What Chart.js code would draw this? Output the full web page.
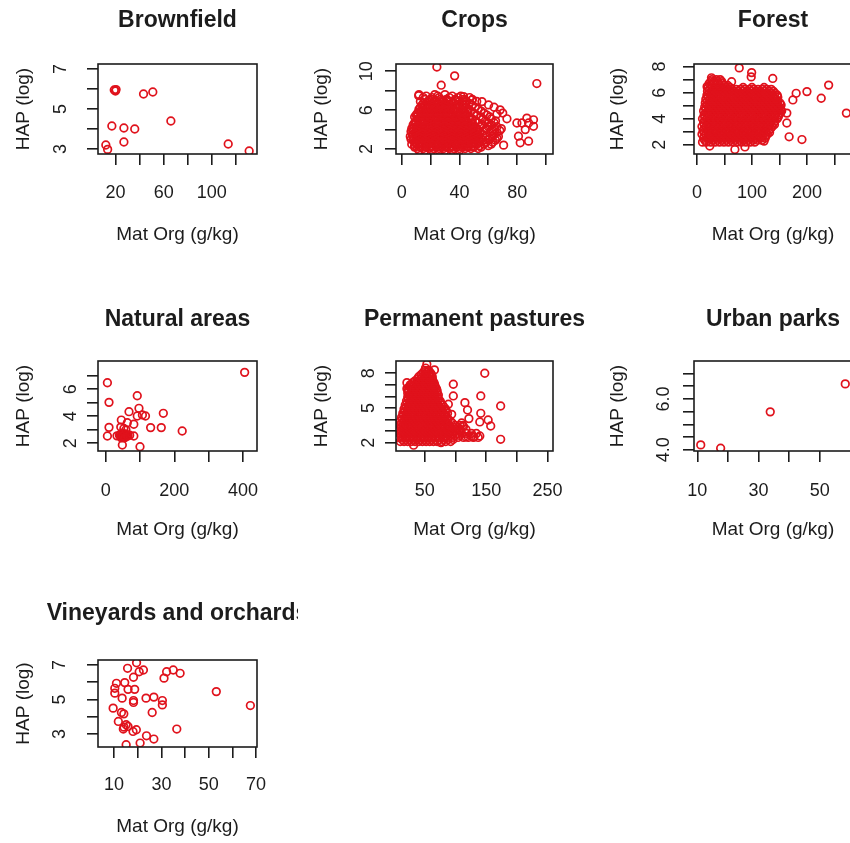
<!DOCTYPE html>
<html>
<head>
<meta charset="utf-8">
<script src="https://cdn.jsdelivr.net/npm/chart.js@4.4.1/dist/chart.umd.min.js"></script>
<style>
html, body { margin: 0; padding: 0; background: #fff; }
body { width: 850px; height: 843px; overflow: hidden; position: relative; }
.panel { position: absolute; width: 298px; height: 298px; overflow: hidden; }
.panel canvas { position: absolute; left: 0; top: 0; }
</style>
</head>
<body>
<script>
// values: [x = Mat Org (g/kg), y = HAP (log)]
const brownfieldPts = [[19,5.95],[20,5.9],[20.5,5.97],[43.3,5.75],[51,5.85],[17,4.15],[27,4.05],[36,4.0],[66,4.4],
  [27,3.35],[12,3.2],[13.5,2.98],[113.6,3.25],[131,2.9]];

// crops: dense cloud typed row by row [y, [x...]], then the loose points
const cropsRows = [
  [1.85, [12,16,21,26,30,35,40]],
  [2.05, [11,15,19,22,26,29,33,36,40,44,48,53]],
  [2.2, [9,13,17,20,24,27,31,34,38,42,46,50,55]],
  [2.35, [9,13,17,21,24,28,31,35,38,42,46,50,54,60]],
  [2.5, [7,11,15,19,22,26,29,33,36,40,44,48,52,57,62]],
  [2.6, [9.5,13.5,16.5,20.5,23,27.5,30.5,34,37.5,41.5,44.5,48.5,53]],
  [2.7, [10,14,17,21,25,28,32,37,41,45,49,54,58,63]],
  [2.9, [8,12,16,18,23,27,30,35,39,43,47,51,56,60,65]],
  [3.0, [6.5,10.5,13.5,17,20.5,24.5,28,31.5,35.5,38,42,45.5,49.5,53.5]],
  [3.1, [8,12,15,19,23,26,29,34,39,43,47,51,55,61,66]],
  [3.3, [6,10,14,19,21,25,28,32,37,41,45,49,53,58,63,67]],
  [3.4, [7.5,12.5,16.5,20,23,26.5,29.5,33.5,36,39.5,43,46.5,50.5]],
  [3.5, [8,11,15,18,22,27,30,34,37,41,44,48,52,56,64]],
  [3.7, [9,13,16,20,24,29,31,35,38,42,46,50,54,61,66]],
  [3.8, [6.5,10.5,14.5,17.5,21.5,25.5,28,32.5,36.5,39.5,43.5,47.5,51.5]],
  [3.9, [8,12,14,19,23,27,30,34,36,41,45,49,53,57,63,68]],
  [4.1, [7,11,15,18,22,26,30,33,37,40,44,48,52,59,64,69]],
  [4.2, [8.5,12.5,16.5,19.5,24,27.5,31.5,35,38.5,42,46,49.5]],
  [4.3, [10,14,16,20,23,27,31,34,38,41,45,50,54,60,66]],
  [4.5, [8,12,17,21,25,28,32,36,39,43,47,56,62]],
  [4.6, [9.5,14.5,18.5,22.5,26.5,30,34,37.5,41,45,48.5]],
  [4.7, [9,13,15,20,24,29,33,37,40,44,49,53,60,64]],
  [4.9, [10,14,18,23,27,31,34,38,41,45,51,58,65]],
  [5.0, [11.5,15.5,20,24.5,28,32,36,39.5,43,47]],
  [5.1, [11,15,17,22,25,30,35,39,44,49,56,62]],
  [5.3, [9,13,16,20,24,29,33,37,42,47,55,61]],
  [5.4, [11,14.5,18,22.5,26.5,30.5,34.5,38.5,43.5]],
  [5.5, [10,14,18,21,25,28,32,36,41,45,52,59]],
  [5.7, [11,15,19,22,26,30,35,40,44,50,57]],
  [5.8, [13.5,17.5,21,24.5,28.5,33,37.5,41.5,46]],
  [5.9, [13,16,20,24,27,31,36,39,43,48,55]],
  [6.1, [12,17,21,25,28,32,36,41,46,53]],
  [6.2, [14.5,18.5,22.5,26,29.5,33.5,38,43]],
  [6.3, [13,16,20,24,27,30,34,40,45,51]],
  [6.5, [14,19,23,27,31,38,43,49]],
  [6.6, [16.5,21,25,29,33,39,44]],
  [6.7, [15,21,26,30,36,42,47]],
  [6.9, [13,18,24,29,34,40,45,52]],
  [7.0, [19,23,28,32,38,44]],
  [7.1, [16,21,27,31,37,43,49]],
  [7.3, [15,21,26,33,39,47]],
  [7.45, [17,25,35,41]],
  [7.6, [12,23,30]]
];
const cropsLoose = [[24.4,10.44],[36.7,9.53],[93.6,8.74],[27.4,8.57],[11.8,7.49],[42.9,7.39],[48.7,7.05],[55.6,6.88],
  [60.2,6.54],[68.2,6.03],[64,6.3],[66,5.6],[70,5.7],[72.9,5.11],[79.8,4.68],[86.7,5.18],[91.3,5.01],[83.3,4.68],
  [87.9,4.68],[91.3,4.34],[85.6,4.0],[80.9,3.32],[82.1,2.64],[87.9,2.81],[70.6,2.4],[57.9,2.64]];

const forestRows = [
  [2.2, [10,17,25,33,41,49,57,65,73,81,89,97,105]],
  [2.35, [14,22,30,38,46,54,62,70,78,86,94,102,110,118]],
  [2.5, [12,20,28,36,44,52,60,68,76,84,92,100,108,116,124]],
  [2.65, [13,21,29,37,45,53,61,69,77,85,93,101,109,117,125]],
  [2.8, [9,16,24,32,40,48,56,64,72,80,88,96,104,112,120,128]],
  [2.95, [13,21,29,37,45,53,61,69,77,85,93,101,109,117,125,132]],
  [3.1, [11,19,27,35,43,51,59,67,75,83,91,99,107,115,123,131]],
  [3.25, [14,22,30,38,46,54,62,70,78,86,94,102,110,118,126,134]],
  [3.4, [9,17,25,33,41,49,57,65,73,81,89,97,105,113,121,129,137]],
  [3.55, [13,21,29,37,45,53,61,69,77,85,93,101,109,117,125,133,141]],
  [3.7, [12,20,28,36,44,52,60,68,76,84,92,100,108,116,124,132,140]],
  [3.85, [14,22,30,38,46,54,62,70,78,86,94,102,110,118,126,134,142]],
  [4.0, [10,18,26,34,42,50,58,66,74,82,90,98,106,114,122,130,138,146]],
  [4.15, [14,22,30,38,46,54,62,70,78,86,94,102,110,118,126,134,142,148]],
  [4.3, [13,21,29,37,45,53,61,69,77,85,93,101,109,117,125,133,141,149]],
  [4.45, [16,24,32,40,48,56,64,72,80,88,96,104,112,120,128,136,144,152]],
  [4.6, [12,20,28,36,44,52,60,68,76,84,92,100,108,116,124,132,140,148,154]],
  [4.75, [16,24,32,40,48,56,64,72,80,88,96,104,112,120,128,136,144,152]],
  [4.9, [14,22,30,38,46,54,62,70,78,86,94,102,110,118,126,134,142,150]],
  [5.05, [18,26,34,42,50,58,66,74,82,90,98,106,114,122,130,138,146,153]],
  [5.2, [15,23,31,39,47,55,63,71,79,87,95,103,111,119,127,135,143,151]],
  [5.35, [19,27,35,43,51,59,67,75,83,91,99,107,115,123,131,139,147]],
  [5.5, [16,24,32,40,48,56,64,72,80,88,96,104,112,120,128,136,144]],
  [5.65, [20,28,36,44,52,60,68,76,84,92,100,108,116,124,132,140,147]],
  [5.8, [18,26,34,42,50,58,66,74,82,90,98,106,114,122,130,138,146]],
  [5.95, [22,30,38,46,54,62,70,78,86,94,102,110,118,126,134,142]],
  [6.1, [19,27,35,43,51,59,67,75,83,91,99,107,115,123,131,139]],
  [6.25, [23,31,39,47,55,63,71,79,87,95,103,111,119,127,135]],
  [6.4, [20,28,36,44,52,60,84,100,122]],
  [6.55, [25,33,41,49,56]],
  [6.7, [22,30,38,46]],
  [6.85, [25,31,38,45]],
  [7.0, [27,35,42]]
];
const forestLoose = [[76.8,7.9],[99.4,7.54],[98.6,7.21],[137.8,7.09],[239.5,6.58],[26.3,7.14],[18.3,6.46],[62.9,6.84],
  [200,6.08],[180.4,5.95],[174.4,5.44],[226,5.57],[271.8,4.43],[163.4,4.43],[163.4,3.67],[167.6,2.61],[190.9,2.4],
  [122,2.28],[87.2,1.83],[68.9,1.64],[23.2,1.9]];

const naturalPts = [[405,7.25],[5,6.48],[9.7,5.03],[92,5.52],[97,4.59],[68,4.34],[92,4.02],[107,4.1],[116,4.02],
  [168,4.22],[45.6,3.72],[63,3.52],[82,3.41],[9.7,3.18],[131,3.16],[162,3.16],[53,3.1],[44,3.2],[223,2.91],[5,2.54],
  [82,2.54],[48.5,1.87],[100,1.75],[33,2.55],[40,2.6],[44,2.5],[47,2.7],[50,2.45],[52,2.6],[55,2.55],[58,2.7],
  [46,2.4],[60,2.5],[43,2.65],[54,2.4],[49,2.75],[57,2.45],[62,2.6],[51,2.55],[65,2.55],[59,3.0],[70,2.6]];

const pastureRows = [
  [2.1, [10,16,22,28,34,40,46,52,58,64,70,77,84,92]],
  [2.28, [13,19,25,31,37,43,49,55,61,67,74,81,88,96]],
  [2.45, [8,13,19,25,31,37,43,49,55,61,67,73,80,87,95,104,113,121,129,137]],
  [2.62, [11,16,22,28,34,40,46,52,58,64,70,77,84,91,99,107]],
  [2.8, [9,14,20,26,32,38,44,50,56,62,68,74,81,88,96,103,110,118,126,134]],
  [2.98, [11,16,22,28,34,40,46,52,58,64,70,76,84,91,99,106]],
  [3.15, [8,13,19,25,31,37,43,49,55,61,67,73,79,86,94,101,108,117]],
  [3.32, [11,16,22,28,34,40,46,52,58,64,70,76,83,90,97,104]],
  [3.5, [9,15,21,27,33,39,45,51,57,63,69,75,82,90,99,107,112]],
  [3.68, [12,18,24,30,36,42,48,54,60,66,72,79,86,95]],
  [3.85, [10,16,22,28,34,40,46,52,58,64,70,76,84,92]],
  [4.02, [13,19,25,31,37,43,49,55,61,67,73,80,88]],
  [4.2, [12,18,24,30,36,42,48,54,60,66,72,79,86]],
  [4.38, [15,21,27,33,39,45,51,57,63,69,75,82]],
  [4.55, [14,20,26,32,38,44,50,56,62,68,74,81,87]],
  [4.72, [17,23,29,35,41,47,53,59,65,71,78,85]],
  [4.9, [16,22,28,34,40,46,52,58,64,70,77,84]],
  [5.08, [19,25,31,37,43,49,55,61,67,74,81]],
  [5.25, [18,24,30,36,42,48,54,60,66,72,79]],
  [5.42, [21,27,33,39,45,51,57,63,69,76]],
  [5.6, [20,26,32,38,44,50,56,62,68,75]],
  [5.78, [23,29,35,41,47,53,59,65,72]],
  [5.95, [22,28,34,40,46,52,58,64,71]],
  [6.12, [24,30,36,42,48,54,60,66,72]],
  [6.3, [22,28,34,40,46,52,58,64,70]],
  [6.48, [23,29,35,41,47,53,59,65,70]],
  [6.65, [22,28,34,40,46,52,58,64,69]],
  [6.82, [25,31,37,43,49,55,61,67]],
  [7.0, [26,32,38,44,50,56,62,66]],
  [7.18, [30,36,42,48,54,60,65]],
  [7.35, [34,40,46,52,58,63]],
  [7.52, [38,44,50,56,62]],
  [7.7, [40,46,52,58,62]],
  [7.88, [44,50,56,61]],
  [8.05, [47,53,59]],
  [8.25, [50,56]]
];
const pastureLoose = [[53.2,8.78],[65.6,8.29],[51,8.45],[147.7,8.0],[20.7,7.19],[96.4,7.05],[20.7,6.67],[96.4,6.04],
  [141.2,6.04],[173.6,5.17],[115.3,5.46],[88.3,5.32],[119.6,4.83],[141.2,4.54],[93.7,4.45],[121.8,4.08],[139.6,3.79],
  [153.2,3.96],[157.4,3.44],[113,3.4],[110,3.7],[173.6,2.29],[76.3,2.0],[31.6,1.78],[126,2.58],[139.6,2.58],[117,2.5],[130,2.5]];

const urbanPts = [[11.1,4.19],[17.6,4.06],[33.8,5.49],[58.3,6.59]];

const vineyardPts = [[19.5,7.13],[15.7,6.81],[20.6,6.61],[22.4,6.71],[18.2,6.29],[32.2,6.61],[35,6.71],[37.9,6.52],
  [31.1,6.24],[11,5.94],[14.5,5.98],[10.3,5.65],[15.9,5.59],[18.7,5.59],[10.3,5.37],[13.4,5.08],[18.2,4.94],
  [18.2,4.83],[23.5,5.08],[26.8,5.14],[30.4,4.94],[30.4,4.69],[53.2,5.46],[67.6,4.65],[9.6,4.5],[13.1,4.25],
  [14.1,4.17],[26.1,4.25],[11.8,3.73],[15.1,3.54],[15.9,3.44],[14.2,3.4],[13.9,3.29],[18,3.15],[19.4,3.25],
  [36.5,3.29],[23.7,2.9],[26.8,2.71],[15.1,2.38],[21,2.48]];

// axis ticks and the labels R kept
const bfXTicks = [20,40,60,80,100,120], bfXLabels = ['20','','60','','100',''];
const bfYTicks = [3,4,5,6,7], bfYLabels = ['3','','5','','7'];
const crXTicks = [0,20,40,60,80,100], crXLabels = ['0','','40','','80',''];
const crYTicks = [2,4,6,8,10], crYLabels = ['2','','6','','10'];
const foXTicks = [0,50,100,150,200,250], foXLabels = ['0','','100','','200',''];
const foYTicks = [2,3,4,5,6,7,8], foYLabels = ['2','','4','','6','','8'];
const naXTicks = [0,100,200,300,400], naXLabels = ['0','','200','','400'];
const naYTicks = [2,3,4,5,6,7], naYLabels = ['2','','4','','6',''];
const ppXTicks = [50,100,150,200,250], ppXLabels = ['50','','150','','250'];
const ppYTicks = [2,3,4,5,6,7,8], ppYLabels = ['2','','','5','','','8'];
const upXTicks = [10,20,30,40,50,60], upXLabels = ['10','','30','','50',''];
const upYTicks = [4,4.5,5,5.5,6,6.5,7], upYLabels = ['4.0','','','','6.0','',''];
const voXTicks = [10,20,30,40,50,60,70], voXLabels = ['10','','30','','50','','70'];
const voYTicks = [3,4,5,6,7], voYLabels = ['3','','5','','7'];

const FONT = "'Liberation Sans', Arial, Helvetica, sans-serif";
const INK = '#1c1c1c';
const RED = '#e0121c';
const COL_LEFT = [0, 298, 596], ROW_TOP = [0, 297, 596];
const BOX_W = [159, 157, 158], BOX_H = [90, 90, 87];
const TITLE_Y = [21, 23, 18], TICK_Y = [36, 37, 35.7], XLAB_Y = [81, 79, 79.7], YLAB_X = [24, 23.5, 21.5];
const BOX_L = 98, BOX_T = 64, PH = 298, TL = 11;

const pairs = list => list.map(([x, y]) => ({ x, y }));
const fromRows = rows => rows.flatMap(([y, xs]) => xs.map(x => ({ x, y })));

const measureCtx = document.createElement('canvas').getContext('2d');
measureCtx.font = '18px ' + FONT;
function widest(labels) {
  return Math.max(...labels.map(s => measureCtx.measureText(s).width));
}

const frame = {
  id: 'frame',
  afterDraw(chart) {
    const { ctx, chartArea: a } = chart;
    ctx.save();
    ctx.strokeStyle = INK;
    ctx.lineWidth = 1.6;
    ctx.strokeRect(a.left, a.top, a.right - a.left, a.bottom - a.top);
    ctx.restore();
  }
};

function drawPanel(p) {
  const bw = BOX_W[p.col], bh = BOX_H[p.row];
  const W = 2 * BOX_L + bw;
  const div = document.createElement('div');
  div.className = 'panel';
  div.style.left = COL_LEFT[p.col] + 'px';
  div.style.top = ROW_TOP[p.row] + 'px';
  const cv = document.createElement('canvas');
  cv.width = W; cv.height = PH;
  cv.style.width = W + 'px'; cv.style.height = PH + 'px';
  div.appendChild(cv);
  document.body.appendChild(div);

  const titleTop = TITLE_Y[p.row] - 23 * 1.2 / 2;
  const yTickPad = p.yLabOff - TL - widest(p.yLabels) / 2;

  new Chart(cv, {
    type: 'scatter',
    data: {
      datasets: [{
        data: p.pts,
        pointRadius: 3.8,
        pointHoverRadius: 3.8,
        pointBorderWidth: 1.7,
        pointBorderColor: RED,
        pointBackgroundColor: 'rgba(0,0,0,0)'
      }]
    },
    options: {
      responsive: false,
      animation: false,
      devicePixelRatio: 1,
      events: [],
      layout: { padding: 0 },
      plugins: {
        legend: { display: false },
        tooltip: { enabled: false },
        title: {
          display: true, text: p.title, color: INK,
          font: { family: FONT, size: 23, weight: 'bold' },
          padding: { top: titleTop, bottom: BOX_T - titleTop - 23 * 1.2 }
        }
      },
      scales: {
        x: {
          type: 'linear', position: 'bottom', min: p.x[0], max: p.x[1],
          afterBuildTicks: sc => { sc.ticks = p.xTicks.map(v => ({ value: v })); },
          afterFit: sc => { sc.height = PH - BOX_T - bh; },
          grid: { drawOnChartArea: false, tickLength: TL, color: INK, lineWidth: 1.6 },
          border: { display: false },
          ticks: {
            autoSkip: false, minRotation: 0, maxRotation: 0,
            padding: TICK_Y[p.row] - 8.1 - TL,
            color: INK, font: { family: FONT, size: 18 },
            callback: (v, i) => p.xLabels[i]
          },
          title: {
            display: true, text: 'Mat Org (g/kg)', color: INK,
            font: { family: FONT, size: 19 },
            padding: { top: 0, bottom: PH - (BOX_T + bh + XLAB_Y[p.row]) - 19 * 1.2 / 2 }
          }
        },
        y: {
          type: 'linear', position: 'left', min: p.y[0], max: p.y[1],
          afterBuildTicks: sc => { sc.ticks = p.yTicks.map(v => ({ value: v })); },
          afterFit: sc => { sc.width = BOX_L; },
          grid: { drawOnChartArea: false, tickLength: TL, color: INK, lineWidth: 1.6 },
          border: { display: false },
          ticks: {
            autoSkip: false, minRotation: 90, maxRotation: 90, crossAlign: 'center',
            padding: yTickPad,
            color: INK, font: { family: FONT, size: 18 },
            callback: (v, i) => p.yLabels[i]
          },
          title: {
            display: true, text: 'HAP (log)', color: INK,
            font: { family: FONT, size: 19 },
            padding: { top: YLAB_X[p.col] - 19 * 1.2 / 2, bottom: 0 }
          }
        },
        y2: {
          type: 'linear', position: 'right', min: 0, max: 1,
          afterFit: sc => { sc.width = BOX_L; },
          grid: { display: false }, border: { display: false }, ticks: { display: false }
        }
      }
    },
    plugins: [frame]
  });
}

const panels = [
  { title: 'Brownfield', col: 0, row: 0, pts: pairs(brownfieldPts), x: [5.5, 137.5], y: [2.75, 7.25],
    xTicks: bfXTicks, xLabels: bfXLabels, yTicks: bfYTicks, yLabels: bfYLabels, yLabOff: 36.6 },
  { title: 'Crops', col: 1, row: 0, pts: fromRows(cropsRows).concat(pairs(cropsLoose)), x: [-3.9, 104.8], y: [1.49, 10.75],
    xTicks: crXTicks, xLabels: crXLabels, yTicks: crYTicks, yLabels: crYLabels, yLabOff: 28.6 },
  { title: 'Forest', col: 2, row: 0, pts: fromRows(forestRows).concat(pairs(forestLoose)), x: [-5.5, 282], y: [1.29, 8.2],
    xTicks: foXTicks, xLabels: foXLabels, yTicks: foYTicks, yLabels: foYLabels, yLabOff: 33.6 },
  { title: 'Natural areas', col: 0, row: 1, pts: pairs(naturalPts), x: [-22.4, 441], y: [1.43, 8.09],
    xTicks: naXTicks, xLabels: naXLabels, yTicks: naYTicks, yLabels: naYLabels, yLabOff: 27.3 },
  { title: 'Permanent pastures', col: 1, row: 1, pts: fromRows(pastureRows).concat(pairs(pastureLoose)), x: [2.9, 259], y: [1.28, 9.06],
    xTicks: ppXTicks, xLabels: ppXLabels, yTicks: ppYTicks, yLabels: ppYLabels, yLabOff: 27 },
  { title: 'Urban parks', col: 2, row: 1, pts: pairs(urbanPts), x: [8.9, 60.5], y: [3.95, 7.49],
    xTicks: upXTicks, xLabels: upXLabels, yTicks: upYTicks, yLabels: upYLabels, yLabOff: 30 },
  { title: 'Vineyards and orchards', col: 0, row: 2, pts: pairs(vineyardPts), x: [3.2, 70.4], y: [2.25, 7.29],
    xTicks: voXTicks, xLabels: voXLabels, yTicks: voYTicks, yLabels: voYLabels, yLabOff: 37.6 }
];

panels.forEach(drawPanel);
</script>
</body>
</html>
